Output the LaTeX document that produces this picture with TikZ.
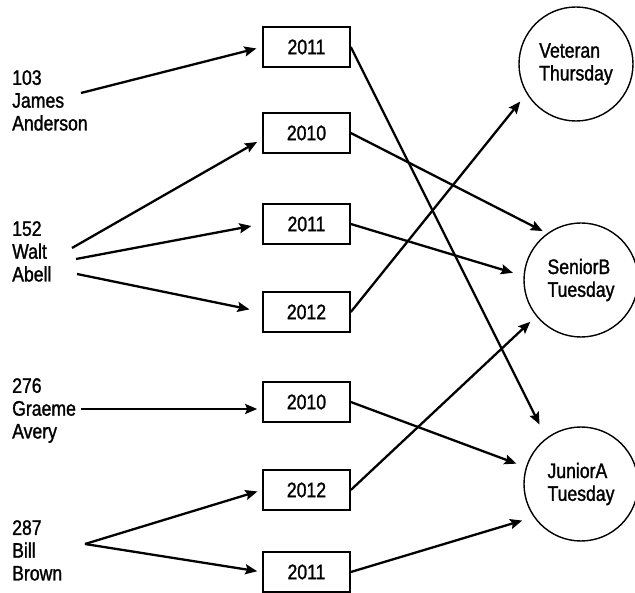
\documentclass[tikz,border=0pt]{standalone}
\usepackage{fontspec}
\setmainfont{Liberation Sans}[FakeStretch=0.84, FakeBold=1.3]
\usetikzlibrary{arrows.meta}

\begin{document}
\begin{tikzpicture}[x=1pt, y=-1pt,
  font=\fontsize{21}{22.8}\selectfont,
  person/.style={anchor=north west, align=left, inner sep=0pt},
  yearbox/.style={draw, line width=1.6pt, minimum width=87pt, minimum height=40pt, inner sep=0pt},
  club/.style={draw, circle, line width=1.4pt, minimum size=114pt, align=left, inner sep=0pt},
  link/.style={line width=2.3pt, -{Stealth[length=12pt, width=10pt, inset=2pt]}, shorten >=6pt}]
  \useasboundingbox (0,0) rectangle (635,593);
  % players
  \node[person] (p103) at (12,70) {103\\James\\Anderson};
  \node[person] (p152) at (12,221) {152\\Walt\\Abell};
  \node[person] (p276) at (12,378) {276\\Graeme\\Avery};
  \node[person] (p287) at (12,520) {287\\Bill\\Brown};
  % years
  \node[yearbox] (y1) at (306.5,47) {2011};
  \node[yearbox] (y2) at (306.5,133) {2010};
  \node[yearbox] (y3) at (306.5,224) {2011};
  \node[yearbox] (y4) at (306.5,312) {2012};
  \node[yearbox] (y5) at (306.5,402) {2010};
  \node[yearbox] (y6) at (306.5,490) {2012};
  \node[yearbox] (y7) at (306.5,572) {2011};
  % clubs
  \node[club] (vet) at (576,64) {Veteran\\Thursday};
  \node[club] (senb) at (581,280) {SeniorB\\Tuesday};
  \node[club] (juna) at (581,484) {JuniorA\\Tuesday};
  % where the arrows leave the names
  \coordinate (s103) at (81,93);
  \coordinate (s152a) at (72,248);
  \coordinate (s152b) at (76,259);
  \coordinate (s152c) at (77,274);
  \coordinate (s276) at (81,409);
  \coordinate (s287) at (85,544);
  % player -> year
  \draw[link] (s103) -- (y1.west);
  \draw[link] (s152a) -- ([yshift=-6pt]y2.west);
  \draw[link, shorten >=11pt] (s152b) -- (y3.west);
  \draw[link, shorten >=13pt] (s152c) -- (y4.west);
  \draw[link, shorten >=5pt] (s276) -- ([yshift=-7pt]y5.west);
  \draw[link, shorten >=5pt] (s287) -- (y6.west);
  \draw[link, shorten >=5pt] (s287) -- (y7.west);
  % year -> club
  \draw[link, shorten >=15pt] (y1.east) -- (juna.127);
  \draw[link, shorten >=5pt] (y2.east) -- (senb.126);
  \draw[link, shorten >=11pt] (y3.east) -- (senb.176);
  \draw[link, shorten >=10pt] (y4.east) -- (vet.211);
  \draw[link, shorten >=10pt] (y5.east) -- (juna.163);
  \draw[link, shorten >=8pt] (y6.east) -- (senb.219);
  \draw[link, shorten >=12pt] (y7.east) -- (juna.215);
\end{tikzpicture}
\end{document}
